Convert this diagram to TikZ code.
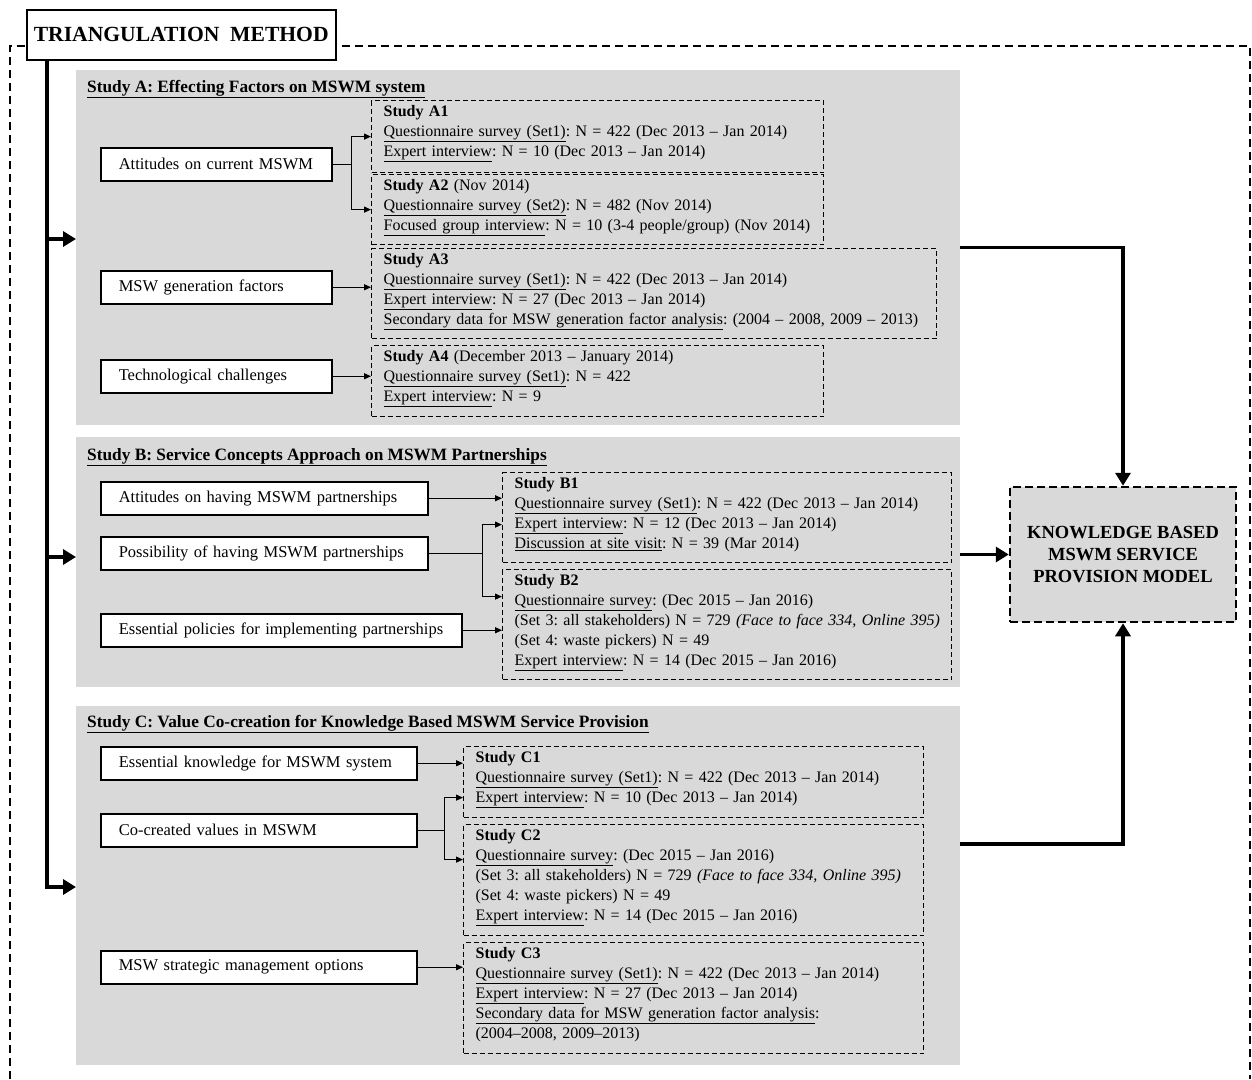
\documentclass[tikz,border=0pt]{standalone}
\usepackage{fontspec}
\setmainfont{Liberation Serif}
\usetikzlibrary{arrows.meta,positioning}
\definecolor{panelgray}{HTML}{D9D9D9}
\frenchspacing
\newcommand\studylines[1]{\begin{tabular}[t]{@{}l@{}}#1\end{tabular}}

\begin{document}
\begin{tikzpicture}[
  x = 1pt, y = -1pt,
  every node/.style = {font=\fontsize{16.5}{20}\selectfont},
  panel/.style = {fill=panelgray, anchor=north west, inner sep=0pt, minimum width=884pt},
  heading/.style = {anchor=base west, inner sep=0pt, font=\fontsize{17.3}{20}\selectfont\bfseries},
  factor/.style = {draw, fill=white, line width=1.5pt, anchor=north west, minimum height=33pt,
    inner xsep=18pt, inner ysep=0pt, align=left, text width=#1},
  study/.style 2 args = {draw, line width=1.2pt, dash pattern=on 5pt off 3pt, anchor=north west,
    inner xsep=12pt, inner ysep=0pt, align=left, text width=#1, text height=16pt, text depth=#2,
    font=\fontsize{16}{20}\selectfont},
  link/.style = {-{Triangle[length=7pt,width=6pt]}, line width=1.2pt},
  flow/.style = {-{Triangle[length=13pt,width=15pt]}, line width=3.5pt},
]
\useasboundingbox (0,0) rectangle (1252,1079);

% textos repetidos
\def\qsone{\underline{Questionnaire survey (Set1)}: N = 422 (Dec 2013 -- Jan 2014)}
\def\qsnew{\underline{Questionnaire survey}: (Dec 2015 -- Jan 2016)\\
  (Set 3: all stakeholders) N = 729 \textit{(Face to face 334, Online 395)}\\
  (Set 4: waste pickers) N = 49\\
  \underline{Expert interview}: N = 14 (Dec 2015 -- Jan 2016)}

% moldura tracejada
\draw[line width=2pt, dash pattern=on 8pt off 5pt] (10,1079) -- (10,46) -- (1250,46) -- (1250,1079);

\node[draw, fill=white, line width=1.5pt, anchor=north west, minimum width=309pt, minimum height=50pt,
  font=\fontsize{21.6}{24}\selectfont\bfseries] (title) at (26,9) {TRIANGULATION\ \ METHOD};

% painéis
\node[panel, minimum height=355pt] (pa) at (76,70) {};
\node[panel, minimum height=250pt] (pb) at (76,437) {};
\node[panel, minimum height=359pt] (pc) at (76,706) {};

\node[heading] (ta) at (87,92) {\underline{Study A: Effecting Factors on MSWM system}};
\node[heading] (tb) at (87,460) {\underline{Study B: Service Concepts Approach on MSWM Partnerships}};
\node[heading] (tc) at (87,727) {\underline{Study C: Value Co-creation for Knowledge Based MSWM Service Provision}};

% estudo A
\node[factor=195pt] (fa1) at (100,147) {Attitudes on current MSWM};
\node[factor=195pt] (fa2) at (100,270) {MSW generation factors};
\node[factor=195pt] (fa3) at (100,359) {Technological challenges};

\node[study={428pt}{56pt}] (a1) at (371,100) {\studylines{\textbf{Study A1}\\ \qsone\\
  \underline{Expert interview}: N = 10 (Dec 2013 -- Jan 2014)}};
\node[study={428pt}{54pt}] (a2) at (371,174) {\studylines{\textbf{Study A2} (Nov 2014)\\
  \underline{Questionnaire survey (Set2)}: N = 482 (Nov 2014)\\
  \underline{Focused group interview}: N = 10 (3-4 people/group) (Nov 2014)}};
\node[study={541pt}{74pt}] (a3) at (371,248) {\studylines{\textbf{Study A3}\\ \qsone\\
  \underline{Expert interview}: N = 27 (Dec 2013 -- Jan 2014)\\
  \underline{Secondary data for MSW generation factor analysis}: (2004 -- 2008, 2009 -- 2013)}};
\node[study={428pt}{55pt}] (a4) at (371,345) {\studylines{\textbf{Study A4} (December 2013 -- January 2014)\\
  \underline{Questionnaire survey (Set1)}: N = 422\\
  \underline{Expert interview}: N = 9}};

\draw[link] (fa1.east) -- ++(19,0) coordinate (ka) |- (a1.west);
\draw[link] (ka) |- (a2.west);
\draw[link] (fa2.east) -- (fa2.east -| a3.west);
\draw[link] (fa3.east) -- (fa3.east -| a4.west);

% estudo B
\node[factor=291pt] (fb1) at (100,481) {Attitudes on having MSWM partnerships};
\node[factor=291pt] (fb2) at (100,536) {Possibility of having MSWM partnerships};
\node[factor=325pt] (fb3) at (100,613) {Essential policies for implementing partnerships};

\node[study={425pt}{74pt}] (b1) at (502,472) {\studylines{\textbf{Study B1}\\ \qsone\\
  \underline{Expert interview}: N = 12 (Dec 2013 -- Jan 2014)\\
  \underline{Discussion at site visit}: N = 39 (Mar 2014)}};
\node[study={425pt}{94pt}] (b2) at (502,569) {\studylines{\textbf{Study B2}\\ \qsnew}};

\draw[link] (fb1.east) -- (fb1.east -| b1.west);
\draw[link] (fb2.east) -- ++(54,0) coordinate (kb) |- ([yshift=-7pt]b1.west);
\draw[link] (kb) |- ([yshift=28pt]b2.west);
\draw[link] (fb3.east) -- (fb3.east -| b2.west);

% estudo C
\node[factor=280pt] (fc1) at (100,746) {Essential knowledge for MSWM system};
\node[factor=280pt] (fc2) at (100,813) {Co-created values in MSWM};
\node[factor=280pt] (fc3) at (100,950) {MSW strategic management options};

\node[study={436pt}{55pt}] (c1) at (463,746) {\studylines{\textbf{Study C1}\\ \qsone\\
  \underline{Expert interview}: N = 10 (Dec 2013 -- Jan 2014)}};
\node[study={436pt}{95pt}] (c2) at (463,824) {\studylines{\textbf{Study C2}\\ \qsnew}};
\node[study={436pt}{95pt}] (c3) at (463,942) {\studylines{\textbf{Study C3}\\ \qsone\\
  \underline{Expert interview}: N = 27 (Dec 2013 -- Jan 2014)\\
  \underline{Secondary data for MSW generation factor analysis}:\\
  (2004--2008, 2009--2013)}};

\draw[link] (fc1.east) -- (fc1.east -| c1.west);
\draw[link] (fc2.east) -- ++(27,0) coordinate (kc) |- ([yshift=-15.5pt]c1.west);
\draw[link] (kc) |- ([yshift=20.5pt]c2.west);
\draw[link] (fc3.east) -- (fc3.east -| c3.west);

% modelo
\node[fill=panelgray, draw, line width=2.5pt, dash pattern=on 8pt off 4pt, minimum width=226pt,
  minimum height=135pt, align=center, font=\fontsize{18.5}{22}\selectfont\bfseries] (model)
  at (1123,554.5) {KNOWLEDGE BASED\\MSWM SERVICE\\PROVISION MODEL};

\draw[flow] (pa.east) -| (model.north);
\draw[flow] (model.west -| pb.east) -- (model.west);
\draw[flow] ([yshift=41.5pt]pc.east) -| (model.south);

% linha vertical
\coordinate (spine) at (47,887);
\coordinate (ja) at (47,239);
\coordinate (jb) at (47,557);
\draw[flow, line join=miter] (title.south -| spine) -- (spine) -- (spine -| pc.west);
\draw[flow] (ja) -- (ja -| pa.west);
\draw[flow] (jb) -- (jb -| pb.west);

\end{tikzpicture}
\end{document}
